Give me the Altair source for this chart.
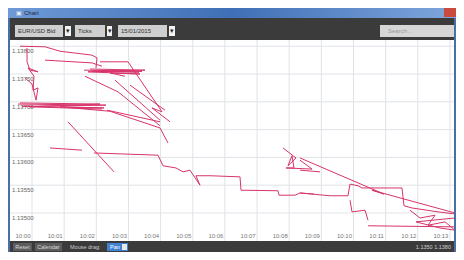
import altair as alt
import pandas as pd

# ---- axis ticks / labels ----
x_ticks = [0, 60, 120, 180, 240, 300, 360, 420, 480, 540, 600, 660, 720, 780]
x_labels = ["10:00", "10:01", "10:02", "10:03", "10:04", "10:05", "10:06",
            "10:07", "10:08", "10:09", "10:10", "10:11", "10:12", "10:13"]
y_ticks = [1.13800, 1.13750, 1.13700, 1.13650, 1.13600, 1.13550, 1.13500]
y_labels = ["1.13800", "1.13750", "1.13700", "1.13650", "1.13600", "1.13550", "1.13500"]

# ---- tick path (seconds after 10:00, price), grouped in runs ----
run_A_t = [-9.3, -9.3, -3.7, 11.2, -7.5, 3.7, 1.9, 11.2, 7.5, 0, -13.1]
run_A_p = [1.13797, 1.13772, 1.13757, 1.13754, 1.13761, 1.13746, 1.13721, 1.13725, 1.13703, 1.13732, 1.13743]
run_B_t = [-22.4, 24.3, 52.3, 112.0, 121.3, 119.4]
run_B_p = [1.13800, 1.13799, 1.13791, 1.13784, 1.13779, 1.13761]
run_C_t = [97.0, 205.3, 104.5, 201.6, 145.6, 173.6]
run_C_p = [1.13757, 1.13755, 1.13754, 1.13750, 1.13752, 1.13746]
run_D_t = [126.9, 179.2, 242.6, 224.0, 257.6]
run_D_p = [1.13772, 1.13772, 1.13682, 1.13689, 1.13664]
run_E_t = [98.9, 160.5, 238.9]
run_E_p = [1.13746, 1.13718, 1.13657]
run_F_t = [24.3, 112.0, 130.6]
run_F_p = [1.13775, 1.13770, 1.13764]
run_G_t = [-26.1, 138.1, -18.7, 134.4, 52.3, 145.6, 238.9, 253.8]
run_G_p = [1.13696, 1.13694, 1.13692, 1.13689, 1.13691, 1.13683, 1.13653, 1.13626]
run_H_t = [140.0, 238.9]
run_H_p = [1.13685, 1.13664]
run_I_t = [67.2, 153.0]
run_I_p = [1.13664, 1.13574]
run_J_t = [33.6, 93.3]
run_J_p = [1.13617, 1.13613]
run_K_t = [115.7, 235.2, 244.5, 268.7, 281.8, 294.9, 313.5, 306.1, 332.2, 388.2, 390.1, 459.1, 461.0, 490.8, 500.2, 526.3]
run_K_p = [1.13608, 1.13604, 1.13585, 1.13581, 1.13574, 1.13577, 1.13550, 1.13567, 1.13567, 1.13565, 1.13541, 1.13540, 1.13532, 1.13532, 1.13536, 1.13534]
run_L_t = [468.4, 492.7, 477.7, 485.2, 489.0, 474.0, 522.6, 500.2]
run_L_p = [1.13617, 1.13599, 1.13585, 1.13603, 1.13581, 1.13581, 1.13579, 1.13595]
run_M_t = [500.2, 657.0, 634.5, 789.4]
run_M_p = [1.13599, 1.13534, 1.13541, 1.13500]
run_N_t = [500.2, 556.2, 589.7, 593.5, 608.4, 615.9, 690.5, 694.3, 709.2, 757.7, 791.3]
run_N_p = [1.13536, 1.13531, 1.13531, 1.13552, 1.13549, 1.13545, 1.13545, 1.13513, 1.13509, 1.13502, 1.13498]
run_O_t = [705.5, 724.1, 752.1, 739.1, 770.8, 789.4, 761.4, 716.7, 789.4]
run_O_p = [1.13505, 1.13491, 1.13496, 1.13478, 1.13484, 1.13469, 1.13473, 1.13484, 1.13491]
run_P_t = [627.1, 791.0]
run_P_p = [1.13477, 1.13475]
run_Q_t = [537.5, 500.2]
run_Q_p = [1.13574, 1.13577]
run_R_t = [593.5, 597.2, 621.5, 627.1]
run_R_p = [1.13523, 1.13502, 1.13505, 1.13487]
run_S_t = [154.9, 238.9]
run_S_p = [1.13739, 1.13667]
run_T_t = [182.9, 248.2]
run_T_p = [1.13730, 1.13685]
run_U_t = [-22.4, 126.9, -3.7, 130.6]
run_U_p = [1.13698, 1.13696, 1.13691, 1.13687]
run_V_t = [108.2, 210.9, 112.0, 199.7]
run_V_p = [1.13759, 1.13757, 1.13755, 1.13753]

runs = {
    "A": (run_A_t, run_A_p), "B": (run_B_t, run_B_p), "C": (run_C_t, run_C_p),
    "D": (run_D_t, run_D_p), "E": (run_E_t, run_E_p), "F": (run_F_t, run_F_p),
    "G": (run_G_t, run_G_p), "H": (run_H_t, run_H_p), "I": (run_I_t, run_I_p),
    "J": (run_J_t, run_J_p), "K": (run_K_t, run_K_p), "L": (run_L_t, run_L_p),
    "M": (run_M_t, run_M_p), "N": (run_N_t, run_N_p), "O": (run_O_t, run_O_p),
    "P": (run_P_t, run_P_p), "Q": (run_Q_t, run_Q_p), "R": (run_R_t, run_R_p),
    "S": (run_S_t, run_S_p), "T": (run_T_t, run_T_p), "U": (run_U_t, run_U_p),
    "V": (run_V_t, run_V_p),
}

rows = []
for name, (ts, ps) in runs.items():
    for i, (t, p) in enumerate(zip(ts, ps)):
        rows.append({"run": name, "i": i, "t": t, "p": p})
ticks_df = pd.DataFrame(rows)

W, H = 448, 244
FONT = "Liberation Sans"

xs = alt.Scale(domain=[-44.8, 791.3], nice=False, zero=False)
ys = alt.Scale(domain=[1.134298, 1.138688], nice=False, zero=False)

one = alt.Chart(pd.DataFrame({"k": [0]}))


def box(x1, x2, y1, y2, color, **kw):
    return one.mark_rect(color=color, **kw).encode(
        x=alt.value(x1), x2=alt.value(x2), y=alt.value(y1), y2=alt.value(y2))


def txt(x, y, text, color, size=6.5, align="left", weight="normal"):
    return one.mark_text(text=text, color=color, fontSize=size, align=align,
                         baseline="middle", font=FONT, fontWeight=weight).encode(
        x=alt.value(x), y=alt.value(y))


xt_df = pd.DataFrame({"t": x_ticks, "lab": x_labels})
yt_df = pd.DataFrame({"p": y_ticks, "lab": y_labels})

vgrid = alt.Chart(xt_df).mark_rule(color="#dfe3e8", strokeWidth=1).encode(
    x=alt.X("t:Q", scale=xs, axis=None), y=alt.value(32), y2=alt.value(233))
hgrid = alt.Chart(yt_df).mark_rule(color="#dfe3e8", strokeWidth=1).encode(
    y=alt.Y("p:Q", scale=ys, axis=None), x=alt.value(0), x2=alt.value(W))
ylab = alt.Chart(yt_df).mark_text(align="left", baseline="top", dy=2, fontSize=6,
                                  color="#666666", font=FONT).encode(
    y=alt.Y("p:Q", scale=ys, axis=None), x=alt.value(4), text="lab:N")
xlab = alt.Chart(xt_df).mark_text(align="center", baseline="middle", dx=-9, fontSize=6,
                                  color="#777777", font=FONT).encode(
    x=alt.X("t:Q", scale=xs, axis=None), y=alt.value(228), text="lab:N")

line = alt.Chart(ticks_df).mark_line(color="#d8346a", strokeWidth=1, clip=True).encode(
    x=alt.X("t:Q", scale=xs, axis=None),
    y=alt.Y("p:Q", scale=ys, axis=None),
    detail="run:N",
    order="i:Q",
)

title_grad = alt.Gradient(gradient="linear", x1=0, x2=1, y1=0, y2=0,
                          stops=[alt.GradientStop(color="#6f9ad6", offset=0),
                                 alt.GradientStop(color="#3f6fb6", offset=0.5),
                                 alt.GradientStop(color="#7fa6dc", offset=1)])

chrome = [
    box(0, W, 0, 10, title_grad),
    box(436, W, 0, 9, "#c94a3f"),
    txt(8, 5, "▣", "#e8eef8", 6),
    txt(16, 5, "Chart", "#1c2a44", 6),
    box(0, W, 10, 32, "#3b3b3b"),
    box(7, 55, 17, 29, "#cfcfcf"),
    txt(10, 23, "EUR/USD Bid", "#333333", 6),
    box(57, 63, 18, 28, "#f2f2f2"),
    txt(60, 23, "▾", "#222222", 7, align="center"),
    box(67, 97, 17, 29, "#cfcfcf"),
    txt(70, 23, "Ticks", "#333333", 6),
    box(99, 104, 18, 28, "#f2f2f2"),
    txt(101.5, 23, "▾", "#222222", 7, align="center"),
    box(110, 159, 17, 29, "#cfcfcf"),
    txt(113, 23, "15/01/2015", "#333333", 6),
    box(161, 167, 18, 28, "#f2f2f2"),
    txt(164, 23, "▾", "#222222", 7, align="center"),
    box(372, 446, 17, 29, "#d6d6d6"),
    txt(380, 23, "Search…", "#9a9a9a", 6),
    box(0, W, 233, H, "#3b3b3b"),
    box(5, 24, 235, 243, "#5c5c5c"),
    txt(14.5, 239, "Reset", "#dddddd", 5.5, align="center"),
    box(27, 54, 235, 243, "#5c5c5c"),
    txt(40.5, 239, "Calendar", "#dddddd", 5.5, align="center"),
    txt(62, 239, "Mouse drag:", "#cccccc", 5.5),
    box(99, 120, 235, 243, "#3f82d4"),
    txt(102, 239, "Pan", "#ffffff", 5.5),
    box(114, 119, 236, 242, "#e8e8e8"),
    txt(443, 239, "1.1350  1.1380", "#cfcfcf", 5.5, align="right"),
    box(0, 2, 10, H, "#4a6fa5"),
    box(W - 2, W, 10, H, "#4a6fa5"),
]

chart = alt.layer(vgrid, hgrid, ylab, xlab, line, *chrome).properties(
    width=W, height=H,
    autosize=alt.AutoSizeParams(type="none"),
    padding=0,
    background="white",
).configure_view(stroke=None)

chart.save("out.html", embed_options={"renderer": "svg", "actions": False})
